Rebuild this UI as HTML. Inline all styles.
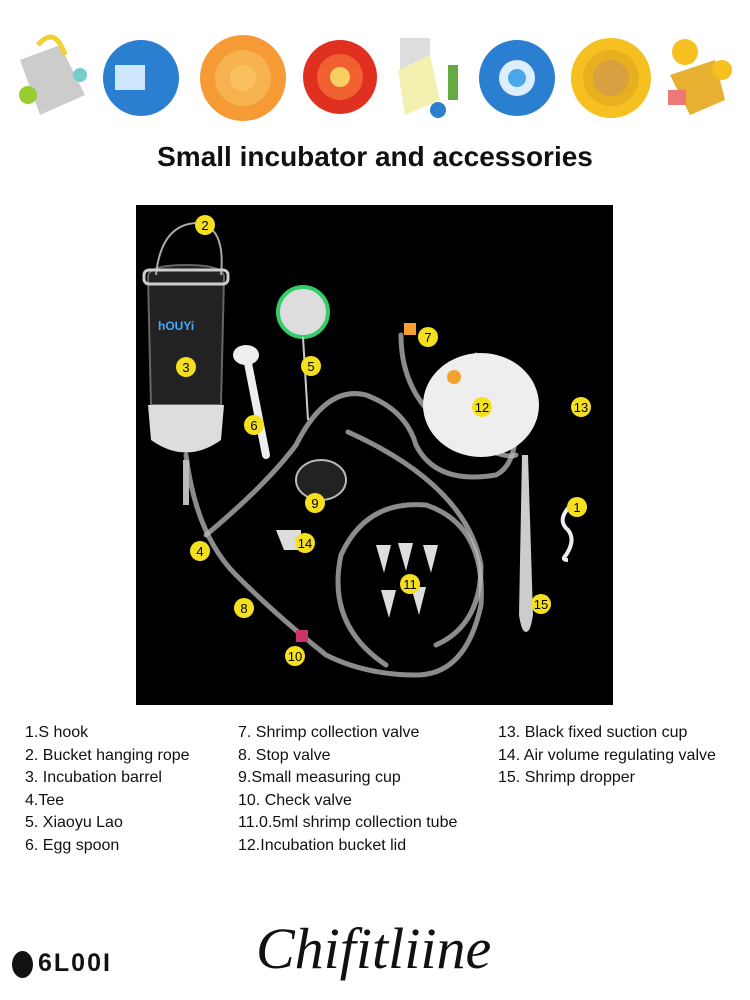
<!DOCTYPE html>
<html><head><style>
body{margin:0;width:750px;height:1000px;background:#fff;position:relative;overflow:hidden;font-family:"Liberation Sans",sans-serif}
.t{position:absolute;left:0;width:750px;top:141px;text-align:center;font-weight:bold;font-size:28px;color:#111}
.col{position:absolute;top:722px;font-size:16px;line-height:22.5px;color:#111;white-space:nowrap}
</style></head><body>
<svg style="position:absolute;left:0;top:0" width="750" height="140">
<g>
<path d="M20 60 L60 45 L85 95 L40 115 Z" fill="#ccc"/><path d="M38 45 Q55 25 65 55" stroke="#f2d030" stroke-width="5" fill="none"/><circle cx="28" cy="95" r="9" fill="#9c3"/><circle cx="80" cy="75" r="7" fill="#7cc"/>
<circle cx="141" cy="78" r="38" fill="#2a7fd0"/><rect x="115" y="65" width="30" height="25" fill="#cfe6ff"/>
<circle cx="243" cy="78" r="43" fill="#f59a35"/><circle cx="243" cy="78" r="28" fill="#f7b250"/><circle cx="243" cy="78" r="13" fill="#fac060"/>
<circle cx="340" cy="77" r="37" fill="#e03020"/><circle cx="340" cy="77" r="23" fill="#f06030"/><circle cx="340" cy="77" r="10" fill="#f8d060"/>
<rect x="400" y="38" width="30" height="35" fill="#ddd"/><path d="M398 70 L430 55 L440 100 L405 115 Z" fill="#f3f0b0"/><rect x="448" y="65" width="10" height="35" fill="#6a4"/><circle cx="438" cy="110" r="8" fill="#2a7fd0"/>
<circle cx="517" cy="78" r="38" fill="#2a7fd0"/><circle cx="517" cy="78" r="18" fill="#ddeeff"/><circle cx="517" cy="78" r="9" fill="#4aa8ea"/>
<circle cx="611" cy="78" r="40" fill="#f5c020"/><circle cx="611" cy="78" r="28" fill="#e8b020"/><circle cx="611" cy="78" r="18" fill="#d8a040"/>
<circle cx="685" cy="52" r="13" fill="#f5c020"/><path d="M670 75 L715 60 L725 100 L690 115 Z" fill="#e8b030"/><rect x="668" y="90" width="18" height="15" fill="#e77"/><circle cx="722" cy="70" r="10" fill="#f5c020"/>
</g></svg>
<div class="t">Small incubator and accessories</div>
<svg style="position:absolute;left:136px;top:205px" width="477" height="500">
<rect width="477" height="500" fill="#000"/>
<g fill="none" stroke="#bbb" stroke-opacity=".75" stroke-width="5" stroke-linecap="round">
<path d="M50 250 Q60 330 100 370 Q140 410 190 450 Q230 470 280 470 Q330 470 345 400 Q350 320 290 300 Q230 295 205 350 Q190 420 250 460"/>
<path d="M70 330 Q130 280 160 240 Q190 180 230 190 Q270 205 280 240 Q300 280 360 270 Q380 260 380 220 Q370 180 340 150"/>
<path d="M265 130 Q265 200 330 235 Q370 255 380 250"/>
<path d="M212 227 Q330 280 345 360 Q345 420 300 440"/>
</g>
<path d="M12 72 Q12 60 50 60 Q88 60 88 72 L85 200 L15 200 Z" fill="#222" stroke="#666" stroke-width="2"/>
<path d="M12 200 L88 200 L85 235 Q50 260 15 235 Z" fill="#ddd"/>
<path d="M50 255 L50 300" stroke="#bbb" stroke-width="6"/>
<path d="M20 70 Q25 20 60 18 Q90 20 85 70" fill="none" stroke="#aaa" stroke-width="2"/>
<rect x="8" y="65" width="84" height="14" rx="5" fill="none" stroke="#ccc" stroke-width="3"/>
<text x="22" y="125" fill="#4af" font-size="12" font-weight="bold">hOUYi</text>
<circle cx="167" cy="107" r="25" fill="#ddd" stroke="#3c6" stroke-width="4"/>
<line x1="167" y1="132" x2="172" y2="215" stroke="#ccc" stroke-width="2"/>
<ellipse cx="110" cy="150" rx="13" ry="10" fill="#eee"/><path d="M112 158 L130 250" stroke="#eee" stroke-width="8" stroke-linecap="round"/>
<ellipse cx="185" cy="275" rx="25" ry="20" fill="#222" stroke="#bbb" stroke-width="2"/>
<ellipse cx="345" cy="200" rx="58" ry="52" fill="#eee"/><circle cx="318" cy="172" r="7" fill="#f6a030"/>
<path d="M140 325 L165 325 L165 345 L148 345 Z" fill="#ddd"/>
<path d="M390 250 L395 410 Q390 440 385 410 L388 250" fill="#ccc" stroke="#ccc" stroke-width="4"/>
<path d="M435 300 Q420 315 432 325 Q440 335 430 350 Q425 355 432 355" fill="none" stroke="#eee" stroke-width="4"/>
<g fill="#ddd"><path d="M240 340 l15 0 -7 28z"/><path d="M262 338 l15 0 -7 28z"/><path d="M287 340 l15 0 -7 28z"/><path d="M245 385 l15 0 -7 28z"/><path d="M275 382 l15 0 -7 28z"/></g>
<rect x="160" y="425" width="12" height="12" fill="#c36"/>
<rect x="268" y="118" width="12" height="12" fill="#f6a030"/>
<g font-size="13" text-anchor="middle" font-family="Liberation Sans">
<g fill="#f5e020">
<circle cx="69" cy="20" r="10"/><circle cx="50" cy="162" r="10"/><circle cx="175" cy="161" r="10"/><circle cx="118" cy="220" r="10"/><circle cx="292" cy="132" r="10"/><circle cx="346" cy="202" r="10"/><circle cx="445" cy="202" r="10"/><circle cx="179" cy="298" r="10"/><circle cx="441" cy="302" r="10"/><circle cx="64" cy="346" r="10"/><circle cx="169" cy="338" r="10"/><circle cx="274" cy="379" r="10"/><circle cx="108" cy="403" r="10"/><circle cx="405" cy="399" r="10"/><circle cx="159" cy="451" r="10"/></g>
<g fill="#000"><text x="69" y="25">2</text><text x="50" y="167">3</text><text x="175" y="166">5</text><text x="118" y="225">6</text><text x="292" y="137">7</text><text x="346" y="207">12</text><text x="445" y="207">13</text><text x="179" y="303">9</text><text x="441" y="307">1</text><text x="64" y="351">4</text><text x="169" y="343">14</text><text x="274" y="384">11</text><text x="108" y="408">8</text><text x="405" y="404">15</text><text x="159" y="456">10</text></g>
</g></svg>
<div class="col" style="left:25px">1.S hook<br>2. Bucket hanging rope<br>3. Incubation barrel<br>4.Tee<br>5. Xiaoyu Lao<br>6. Egg spoon</div>
<div class="col" style="left:238px">7. Shrimp collection valve<br>8. Stop valve<br>9.Small measuring cup<br>10. Check valve<br>11.0.5ml shrimp collection tube<br>12.Incubation bucket lid</div>
<div class="col" style="left:498px">13. Black fixed suction cup<br>14. Air volume regulating valve<br>15. Shrimp dropper</div>
<div style="position:absolute;left:12px;top:951px;width:21px;height:27px;border-radius:50%;background:#111"></div>
<div style="position:absolute;left:38px;top:949px;font-size:25px;font-weight:bold;color:#111;letter-spacing:2px">6L00I</div>
<div style="position:absolute;left:256px;top:915px;font-size:58px;font-style:italic;font-family:'Liberation Serif',serif;color:#111">Chifitliine</div>
</body></html>
